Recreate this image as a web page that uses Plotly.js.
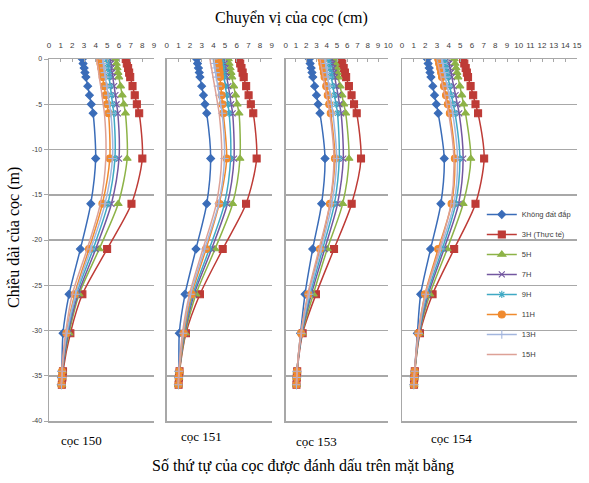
<!DOCTYPE html>
<html><head><meta charset="utf-8">
<script src="https://cdn.plot.ly/plotly-3.0.1.min.js"></script>
<style>html,body{margin:0;padding:0;background:#fff}#chart{width:589px;height:483px}</style>
</head><body><div id="chart"></div>
<script>
// depth (m) of the readings along each pile
const depth = [0,-0.5,-1,-1.5,-2,-3,-4,-5,-6,-11,-16,-21,-26,-30.3,-34.5,-35.2,-36];
const seriesNames = ['Không đất đắp','3H (Thực tế)','5H','7H','9H','11H','13H','15H'];
const pileLabels = ['cọc 150','cọc 151','cọc 153','cọc 154'];
const xMaxPerPile = [9, 9, 10, 15];
const yTickVals = [0,-5,-10,-15,-20,-25,-30,-35,-40];
const yTickText = ['0','-5','-10','-15','-20','-25','-30','-35','-40'];

// cọc 150
const c150_none = [2.85,2.92,3.01,3.08,3.16,3.32,3.47,3.62,3.78,4.00,3.58,2.69,1.72,1.20,1.10,1.07,1.05];
const c150_3H   = [6.58,6.67,6.78,6.87,6.96,7.16,7.35,7.53,7.73,8.00,7.07,4.98,2.86,1.83,1.20,1.15,1.10];
const c150_5H   = [5.70,5.77,5.84,5.91,5.98,6.13,6.27,6.41,6.55,6.70,5.93,4.30,2.58,1.72,1.15,1.12,1.10];
const c150_7H   = [5.25,5.30,5.36,5.41,5.46,5.58,5.69,5.79,5.90,6.00,5.35,4.00,2.49,1.65,1.15,1.10,1.08];
const c150_9H   = [4.95,5.00,5.05,5.10,5.15,5.25,5.35,5.45,5.55,5.65,5.05,3.78,2.35,1.58,1.12,1.10,1.07];
const c150_11H  = [4.35,4.41,4.48,4.54,4.60,4.73,4.85,4.97,5.10,5.21,4.58,3.43,2.20,1.49,1.12,1.10,1.07];
const c150_13H  = [4.60,4.66,4.72,4.78,4.83,4.95,5.07,5.18,5.30,5.44,4.80,3.58,2.28,1.52,1.12,1.10,1.07];
const c150_15H  = [4.10,4.15,4.21,4.26,4.31,4.43,4.54,4.64,4.75,4.87,4.40,3.27,2.00,1.42,1.10,1.08,1.05];
// cọc 151
const c151_none = [2.57,2.64,2.72,2.79,2.85,3.00,3.15,3.28,3.43,3.77,3.43,2.51,1.57,1.08,1.05,1.02,1.00];
const c151_3H   = [6.20,6.30,6.41,6.51,6.60,6.81,7.02,7.21,7.42,7.71,6.80,4.80,2.85,1.65,1.10,1.05,1.02];
const c151_5H   = [5.28,5.35,5.44,5.51,5.58,5.74,5.90,6.04,6.20,6.28,5.65,4.14,2.51,1.60,1.08,1.05,1.00];
const c151_7H   = [4.91,4.97,5.04,5.10,5.15,5.28,5.41,5.52,5.65,5.77,5.20,3.85,2.35,1.55,1.08,1.05,1.00];
const c151_9H   = [4.71,4.76,4.82,4.87,4.92,5.03,5.14,5.24,5.35,5.48,4.95,3.65,2.25,1.50,1.08,1.03,1.00];
const c151_11H  = [4.43,4.46,4.50,4.54,4.57,4.64,4.71,4.78,4.85,5.14,4.50,3.37,2.14,1.45,1.08,1.03,1.00];
const c151_13H  = [4.00,4.06,4.13,4.19,4.25,4.38,4.50,4.62,4.75,4.95,4.45,3.25,2.05,1.40,1.05,1.02,1.00];
const c151_15H  = [3.71,3.77,3.84,3.91,3.97,4.11,4.24,4.37,4.50,4.71,4.25,3.10,1.95,1.35,1.05,1.02,1.00];
// cọc 153
const c153_none = [2.30,2.38,2.48,2.56,2.64,2.82,3.00,3.16,3.34,3.83,3.50,2.63,1.88,1.45,1.10,1.07,1.05];
const c153_3H   = [5.39,5.51,5.65,5.77,5.89,6.16,6.42,6.66,6.92,7.34,6.43,4.71,2.95,1.65,1.12,1.08,1.05];
const c153_5H   = [4.74,4.83,4.93,5.02,5.11,5.30,5.48,5.66,5.85,6.17,5.55,4.05,2.69,1.60,1.10,1.07,1.05];
const c153_7H   = [4.48,4.55,4.64,4.71,4.78,4.94,5.10,5.24,5.40,5.61,5.05,3.80,2.50,1.58,1.10,1.07,1.05];
const c153_9H   = [4.15,4.22,4.30,4.38,4.45,4.60,4.75,4.90,5.05,5.22,4.75,3.60,2.38,1.55,1.10,1.07,1.05];
const c153_11H  = [3.50,3.57,3.65,3.72,3.79,3.95,4.10,4.24,4.39,4.80,4.32,3.34,2.20,1.50,1.10,1.07,1.05];
const c153_13H  = [3.83,3.89,3.96,4.02,4.08,4.22,4.35,4.47,4.60,4.97,4.50,3.45,2.28,1.52,1.10,1.07,1.05];
const c153_15H  = [3.34,3.42,3.50,3.58,3.66,3.82,3.98,4.14,4.30,4.70,4.30,3.25,2.15,1.48,1.10,1.07,1.05];
// cọc 154
const c154_none = [2.17,2.24,2.33,2.40,2.48,2.64,2.79,2.94,3.10,3.62,3.33,2.45,1.60,1.32,1.08,1.05,1.02];
const c154_3H   = [5.24,5.34,5.46,5.56,5.66,5.88,6.10,6.30,6.52,7.04,6.30,4.47,2.62,1.54,1.10,1.06,1.03];
const c154_5H   = [4.47,4.55,4.63,4.71,4.79,4.96,5.12,5.28,5.44,5.90,5.24,3.87,2.39,1.50,1.10,1.06,1.03];
const c154_7H   = [3.96,4.04,4.12,4.20,4.27,4.43,4.59,4.74,4.90,5.24,4.85,3.60,2.25,1.48,1.08,1.05,1.02];
const c154_9H   = [3.62,3.69,3.78,3.85,3.93,4.09,4.24,4.39,4.55,4.96,4.60,3.45,2.15,1.45,1.08,1.05,1.02];
const c154_11H  = [3.10,3.18,3.27,3.35,3.43,3.60,3.77,3.93,4.10,4.53,4.25,3.10,1.97,1.40,1.08,1.05,1.02];
const c154_13H  = [3.40,3.48,3.56,3.64,3.71,3.88,4.04,4.19,4.35,4.76,4.45,3.30,2.05,1.42,1.08,1.05,1.02];
const c154_15H  = [3.00,3.08,3.17,3.25,3.33,3.50,3.67,3.83,4.00,4.45,4.20,3.20,2.00,1.40,1.08,1.05,1.02];

const piles = [
  [c150_none,c150_3H,c150_5H,c150_7H,c150_9H,c150_11H,c150_13H,c150_15H],
  [c151_none,c151_3H,c151_5H,c151_7H,c151_9H,c151_11H,c151_13H,c151_15H],
  [c153_none,c153_3H,c153_5H,c153_7H,c153_9H,c153_11H,c153_13H,c153_15H],
  [c154_none,c154_3H,c154_5H,c154_7H,c154_9H,c154_11H,c154_13H,c154_15H]
];

const colors  = ['#3A6CB8','#BE3B36','#8DB347','#7357A0','#3FA9C4','#F08A2E','#A3B6DE','#DDA196'];
const symbols = ['diamond','square','triangle-up','x-thin-open','asterisk-open','circle','cross-thin-open','circle'];
const msizes  = [6,7,7,6,6,7,6,0];

const traces = [];
piles.forEach((pile, p) => {
  const ax = p === 0 ? '' : String(p + 1);
  pile.forEach((vals, s) => {
    traces.push({
      type: 'scatter',
      x: vals, y: depth,
      xaxis: 'x' + ax, yaxis: 'y' + ax,
      mode: s === 7 ? 'lines' : 'lines+markers',
      name: seriesNames[s],
      legendgroup: 'g' + s,
      showlegend: p === 0,
      line: {color: colors[s], width: 1.5, shape: 'spline', smoothing: 0.8},
      marker: {symbol: symbols[s], size: msizes[s], color: colors[s], line: {color: colors[s], width: 1.1}}
    });
  });
});

const W = 589, H = 483;
const xPix = [[49,154],[166.7,271.7],[285.7,388.3],[402,577]];
const yDom = [1 - 421/H, 1 - 59/H];
const grid = '#A8A8A8';
const tickFont = {family: 'Liberation Sans, Arial, sans-serif', size: 8, color: '#404040'};

const layout = {
  width: W, height: H,
  margin: {l: 0, r: 0, t: 0, b: 0},
  paper_bgcolor: '#fff', plot_bgcolor: 'rgba(0,0,0,0)',
  showlegend: true,
  legend: {
    x: 0.818, y: 0.586, xanchor: 'left', yanchor: 'top',
    bgcolor: 'rgba(0,0,0,0)', borderwidth: 0,
    font: {family: 'Liberation Sans Narrow, Liberation Sans, Arial, sans-serif', size: 7.5, color: '#404040'},
    traceorder: 'grouped', tracegroupgap: 1, itemwidth: 30
  },
  annotations: [],
  font: {family: 'Liberation Serif, Times New Roman, serif'}
};

xPix.forEach((px, p) => {
  const ax = p === 0 ? '' : String(p + 1);
  layout['xaxis' + ax] = {
    domain: [px[0]/W, px[1]/W],
    anchor: 'y' + ax, side: 'top',
    range: [0, xMaxPerPile[p]], dtick: 1, tick0: 0,
    showgrid: false, zeroline: false,
    showline: true, mirror: true, linecolor: grid, linewidth: 1.5,
    ticks: 'inside', ticklen: 3, tickcolor: grid, tickwidth: 1,
    tickfont: tickFont, ticklabelstandoff: 6
  };
  layout['yaxis' + ax] = {
    domain: yDom, anchor: 'x' + ax,
    range: [-40, 0], tickvals: yTickVals, ticktext: yTickText,
    showticklabels: p === 0,
    showgrid: true, gridcolor: grid, gridwidth: 1.5,
    zeroline: false,
    showline: true, linecolor: grid, linewidth: 1.5,
    ticks: p === 0 ? 'outside' : '', ticklen: 4, tickcolor: grid,
    tickfont: {family: 'Liberation Sans, Arial, sans-serif', size: 7, color: '#404040'}
  };
});

const labelPos = [[81,440],[201,436],[316,441],[451,438]];
pileLabels.forEach((t, i) => {
  layout.annotations.push({
    text: t, xref: 'paper', yref: 'paper',
    x: labelPos[i][0]/W, y: 1 - labelPos[i][1]/H,
    xanchor: 'center', yanchor: 'middle', showarrow: false,
    font: {family: 'Liberation Serif, Times New Roman, serif', size: 13, color: '#000'}
  });
});
layout.annotations.push({
  text: 'Chuyển vị của cọc (cm)', xref: 'paper', yref: 'paper',
  x: 291/W, y: 1 - 18/H, xanchor: 'center', yanchor: 'middle', showarrow: false,
  font: {family: 'Liberation Serif, Times New Roman, serif', size: 16, color: '#000'}
});
layout.annotations.push({
  text: 'Chiều dài của cọc (m)', xref: 'paper', yref: 'paper',
  x: 14/W, y: 1 - 238/H, xanchor: 'center', yanchor: 'middle', showarrow: false, textangle: -90,
  font: {family: 'Liberation Serif, Times New Roman, serif', size: 16, color: '#000'}
});
layout.annotations.push({
  text: 'Số thứ tự của cọc được đánh dấu trên mặt bằng', xref: 'paper', yref: 'paper',
  x: 303/W, y: 1 - 466/H, xanchor: 'center', yanchor: 'middle', showarrow: false,
  font: {family: 'Liberation Serif, Times New Roman, serif', size: 16, color: '#000'}
});

Plotly.newPlot('chart', traces, layout, {staticPlot: true, displayModeBar: false});
</script>
</body></html>
